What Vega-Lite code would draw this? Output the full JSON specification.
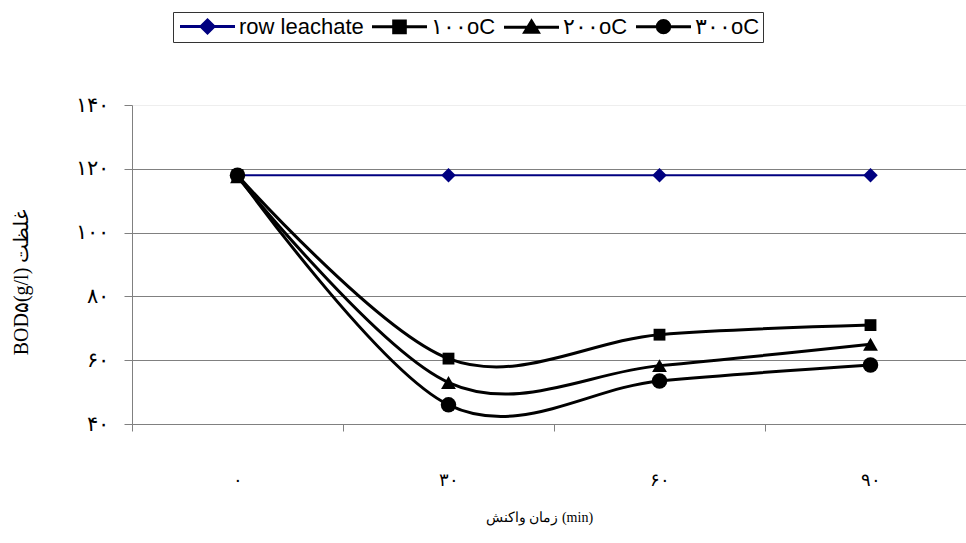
{
  "$schema": "https://vega.github.io/schema/vega-lite/v6.json",
  "width": 844,
  "height": 319,
  "autosize": {"type": "none"},
  "padding": {"left": 132, "top": 105, "right": 0, "bottom": 119},
  "background": "white",
  "config": {
    "view": {"stroke": null},
    "font": "Liberation Serif",
    "legend": {
      "orient": "none",
      "legendX": 41,
      "legendY": -93,
      "direction": "horizontal",
      "columns": 4,
      "symbolSize": 400,
      "symbolOffset": 20,
      "labelOffset": 20,
      "labelFont": "Liberation Sans",
      "labelFontSize": 22,
      "labelColor": "black",
      "columnPadding": 2,
      "padding": 3,
      "strokeColor": "#333333",
      "symbolOpacity": 1,
      "symbolStrokeWidth": 3
    }
  },
  "data": {
    "values": [
      {"t": "۰", "series": "row leachate", "v": 118},
      {"t": "۰", "series": "۱۰۰oC", "v": 118},
      {"t": "۰", "series": "۲۰۰oC", "v": 117.5},
      {"t": "۰", "series": "۳۰۰oC", "v": 118},
      {"t": "۳۰", "series": "row leachate", "v": 118},
      {"t": "۳۰", "series": "۱۰۰oC", "v": 60.5},
      {"t": "۳۰", "series": "۲۰۰oC", "v": 53},
      {"t": "۳۰", "series": "۳۰۰oC", "v": 46},
      {"t": "۶۰", "series": "row leachate", "v": 118},
      {"t": "۶۰", "series": "۱۰۰oC", "v": 68},
      {"t": "۶۰", "series": "۲۰۰oC", "v": 58.3},
      {"t": "۶۰", "series": "۳۰۰oC", "v": 53.5},
      {"t": "۹۰", "series": "row leachate", "v": 118},
      {"t": "۹۰", "series": "۱۰۰oC", "v": 71},
      {"t": "۹۰", "series": "۲۰۰oC", "v": 65},
      {"t": "۹۰", "series": "۳۰۰oC", "v": 58.5}
    ]
  },
  "encoding": {
    "x": {
      "field": "t",
      "type": "ordinal",
      "sort": ["۰", "۳۰", "۶۰", "۹۰"],
      "scale": {"type": "band", "paddingInner": 0, "paddingOuter": 0},
      "axis": {
        "title": "زمان واکنش (min)",
        "tickBand": "extent",
        "labelAngle": 0,
        "labelPadding": 40,
        "labelFontSize": 18,
        "labelColor": "black",
        "domainColor": "#808080",
        "tickColor": "#808080",
        "tickSize": 7,
        "grid": false,
        "titleFontSize": 14,
        "titleFontWeight": "normal",
        "titleColor": "black",
        "titlePadding": 21,
        "titleX": 407
      }
    },
    "y": {
      "field": "v",
      "type": "quantitative",
      "scale": {"domain": [40, 140], "nice": false, "zero": false},
      "axis": {
        "values": [40, 60, 80, 100, 120, 140],
        "labelExpr": "datum.value == 40 ? '۴۰' : datum.value == 60 ? '۶۰' : datum.value == 80 ? '۸۰' : datum.value == 100 ? '۱۰۰' : datum.value == 120 ? '۱۲۰' : '۱۴۰'",
        "labelFontSize": 21,
        "labelColor": "black",
        "labelPadding": 16,
        "tickSize": 8,
        "domainColor": "#808080",
        "tickColor": "#808080",
        "grid": true,
        "gridColor": {"condition": {"test": "datum.value == 140", "value": "#eeeeee"}, "value": "#808080"},
        "gridOpacity": 1,
        "title": "BOD۵(g/l) غلظت",
        "titleFontSize": 20,
        "titleFontWeight": "normal",
        "titleColor": "black",
        "titlePadding": 44,
        "titleY": 177
      }
    }
  },
  "layer": [
    {
      "transform": [{"filter": "datum.series === 'row leachate'"}],
      "mark": {"type": "line", "color": "#000080", "strokeWidth": 2},
      "encoding": {}
    },
    {
      "transform": [{"filter": "datum.series !== 'row leachate'"}],
      "mark": {"type": "line", "interpolate": "cardinal", "tension": 0, "color": "black", "strokeWidth": 3},
      "encoding": {"detail": {"field": "series", "type": "nominal"}}
    },
    {
      "transform": [{"filter": "datum.series === 'row leachate'"}],
      "mark": {"type": "point", "shape": "diamond", "filled": true, "color": "#000080", "opacity": 1, "size": 210},
      "encoding": {}
    },
    {
      "transform": [{"filter": "datum.series === '۱۰۰oC'"}],
      "mark": {"type": "point", "shape": "square", "filled": true, "color": "black", "opacity": 1, "size": 140},
      "encoding": {}
    },
    {
      "transform": [{"filter": "datum.series === '۲۰۰oC'"}],
      "mark": {"type": "point", "shape": "triangle-up", "filled": true, "color": "black", "opacity": 1, "size": 220},
      "encoding": {}
    },
    {
      "transform": [{"filter": "datum.series === '۳۰۰oC'"}],
      "mark": {"type": "point", "shape": "circle", "filled": true, "color": "black", "opacity": 1, "size": 240},
      "encoding": {}
    },
    {
      "mark": {"type": "point", "filled": true, "opacity": 0},
      "encoding": {
        "fill": {
          "field": "series",
          "type": "nominal",
          "scale": {"domain": ["row leachate", "۱۰۰oC", "۲۰۰oC", "۳۰۰oC"], "range": ["#000080", "black", "black", "black"]},
          "legend": {"title": null}
        },
        "stroke": {
          "field": "series",
          "type": "nominal",
          "scale": {"domain": ["row leachate", "۱۰۰oC", "۲۰۰oC", "۳۰۰oC"], "range": ["#000080", "black", "black", "black"]},
          "legend": {"title": null}
        },
        "shape": {
          "field": "series",
          "type": "nominal",
          "scale": {
            "domain": ["row leachate", "۱۰۰oC", "۲۰۰oC", "۳۰۰oC"],
            "range": [
              "M-2.75,0H2.75M0,-0.65L0.65,0L0,0.65L-0.65,0Z",
              "M-2.75,0H2.75M-0.58,-0.58H0.58V0.58H-0.58Z",
              "M-2.75,0H2.75M0,-0.62L0.68,0.5H-0.68Z",
              "M-2.75,0H2.75M-0.62,0A0.62,0.62 0 1,0 0.62,0A0.62,0.62 0 1,0 -0.62,0Z"
            ]
          },
          "legend": {"title": null}
        }
      }
    }
  ]
}
